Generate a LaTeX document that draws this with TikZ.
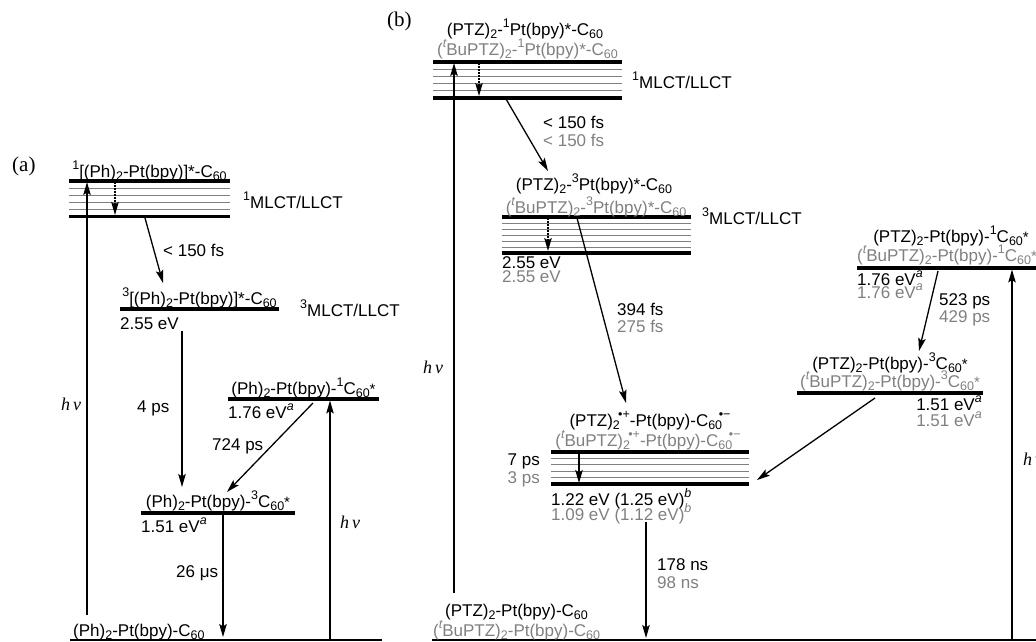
\documentclass[tikz,border=0pt]{standalone}
\usepackage{fontspec}
\setmainfont{Liberation Sans}
\newfontfamily\serif{Liberation Serif}
\usetikzlibrary{arrows.meta}
\newcommand\Sb[1]{\raisebox{-0.2em}{\fontsize{12.5}{13}\selectfont #1}}
\newcommand\Sp[1]{\raisebox{0.42em}{\fontsize{12.5}{13}\selectfont #1}}
\newcommand\st{{\fontsize{15}{15}\selectfont *}}
\definecolor{gtext}{HTML}{808080}
\begin{document}
\begin{tikzpicture}[x=1pt,y=-1pt,
  txt/.style={font=\fontsize{17}{20}\selectfont, inner sep=0pt, text=black},
  gtxt/.style={txt, text=gtext},
  hnu/.style={font=\fontsize{18}{20}\selectfont\serif\itshape, inner sep=0pt},
  panel/.style={font=\fontsize{21}{24}\selectfont\serif, inner sep=0pt},
  lvl/.style={line width=3.8pt},
  sublvl/.style={line width=0.9pt, draw=black!50},
  gline/.style={line width=1.4pt},
  arr/.style={line width=1.3pt, -{Stealth[length=13pt,width=7.5pt,inset=2.5pt]}},
  darr/.style={arr, dash pattern=on 1.6pt off 1.4pt}]
\useasboundingbox (0,0) rectangle (1036,641);
\clip (0,0) rectangle (1036,641);

% ================= (a) =================
\node[panel, anchor=base west] (pa) at (12,171) {(a)};
% singlet manifold
\foreach \y in {188.2,195.4,202.6,209.8} \draw[sublvl] (69,\y) -- (230,\y);
\draw[lvl] (69,181) -- (230,181);
\draw[lvl] (69,216.5) -- (230,216.5);
\node[txt, anchor=base] (a1lab) at (149.5,177) {\Sp{1}[(Ph)\Sb{2}-Pt(bpy)]*-C\Sb{60}};
\node[txt, anchor=base west] (a1ml) at (243,208) {\Sp{1}MLCT/LLCT};
\coordinate (a1top) at (87,182);
\coordinate (a1dtop) at (115,182);
\coordinate (a1dbot) at (115,215);
\coordinate (a1out) at (145,218);
% triplet
\draw[lvl] (120,309) -- (279,309);
\node[txt, anchor=base] (a3lab) at (199.5,304) {\Sp{3}[(Ph)\Sb{2}-Pt(bpy)]*-C\Sb{60}};
\node[txt, anchor=base west] (a3e) at (120,329) {2.55 eV};
\node[txt, anchor=base west] (a3ml) at (300,316) {\Sp{3}MLCT/LLCT};
\coordinate (a3in) at (163,283);
\coordinate (a3out) at (182,331);
\node[txt, anchor=base west] (a150) at (163,256) {< 150 fs};
% 1C60*
\draw[lvl] (228,399) -- (379,399);
\node[txt, anchor=base] (aS1lab) at (303.5,394) {(Ph)\Sb{2}-Pt(bpy)-\Sp{1}C\Sb{60}\st};
\node[txt, anchor=base west] (aS1e) at (228,418) {1.76 eV\Sp{\itshape a}};
\coordinate (aS1out) at (313,403);
\coordinate (aS1in) at (330,400.5);
% 3C60*
\draw[lvl] (141,513) -- (295,513);
\node[txt, anchor=base] (aT1lab) at (218,507) {(Ph)\Sb{2}-Pt(bpy)-\Sp{3}C\Sb{60}\st};
\node[txt, anchor=base west] (aT1e) at (141,532) {1.51 eV\Sp{\itshape a}};
\coordinate (aT1in4) at (182,487);
\coordinate (aT1in7) at (227,492);
\coordinate (aT1out) at (223,514);
% ground
\draw[gline] (70,640) -- (382,640);
\node[txt, anchor=base west] (agl) at (73,636) {(Ph)\Sb{2}-Pt(bpy)-C\Sb{60}};
\coordinate (ag1) at (87,615);
\coordinate (ag2) at (223,637);
\coordinate (ag3) at (330,640);
% rate labels
\node[txt, anchor=base west] (a4ps) at (137,412) {4 ps};
\node[txt, anchor=base west] (a724) at (212,450) {724 ps};
\node[txt, anchor=base west] (a26) at (176,577) {26 μs};
\node[hnu, anchor=base west] (ahv1) at (61,410) {h\,ν};
\node[hnu, anchor=base west] (ahv2) at (340,528) {h\,ν};
% arrows
\draw[arr] (ag1) -- (a1top);
\draw[darr] (a1dtop) -- (a1dbot);
\draw[arr] (a1out) -- (a3in);
\draw[arr] (a3out) -- (aT1in4);
\draw[arr] (aS1out) -- (aT1in7);
\draw[arr] (aT1out) -- (ag2);
\draw[arr] (ag3) -- (aS1in);

% ================= (b) =================
\node[panel, anchor=base west] (pb) at (387,26) {(b)};
% singlet manifold
\foreach \y in {69.2,76.4,83.6,90.8} \draw[sublvl] (433,\y) -- (622,\y);
\draw[lvl] (433,62) -- (622,62);
\draw[lvl] (433,98) -- (622,98);
\node[txt, anchor=base] (b1lab) at (525,35) {(PTZ)\Sb{2}-\Sp{1}Pt(bpy)*-C\Sb{60}};
\node[gtxt, anchor=base] (b1glab) at (527.5,55) {(\Sp{\itshape t}BuPTZ)\Sb{2}-\Sp{1}Pt(bpy)*-C\Sb{60}};
\node[txt, anchor=base west] (b1ml) at (632,88) {\Sp{1}MLCT/LLCT};
\coordinate (b1top) at (454,63);
\coordinate (b1dtop) at (479,63);
\coordinate (b1dbot) at (479,96);
\coordinate (b1out) at (506,99);
\node[txt, anchor=base west] (b150) at (543,128) {< 150 fs};
\node[gtxt, anchor=base west] (b150g) at (543,146) {< 150 fs};
% triplet manifold
\foreach \y in {223,229,235,241,247} \draw[sublvl] (502,\y) -- (691,\y);
\draw[lvl] (502,217) -- (691,217);
\draw[lvl] (502,253) -- (691,253);
\node[txt, anchor=base] (b3lab) at (594,190) {(PTZ)\Sb{2}-\Sp{3}Pt(bpy)*-C\Sb{60}};
\node[gtxt, anchor=base] (b3glab) at (596,213) {(\Sp{\itshape t}BuPTZ)\Sb{2}-\Sp{3}Pt(bpy)*-C\Sb{60}};
\node[txt, anchor=base west] (b3ml) at (702,224) {\Sp{3}MLCT/LLCT};
\node[txt, anchor=base west] (b3e) at (502,268) {2.55 eV};
\node[gtxt, anchor=base west] (b3eg) at (502,282) {2.55 eV};
\coordinate (b3in) at (548,171);
\coordinate (b3dtop) at (548,218);
\coordinate (b3dbot) at (548,251);
\coordinate (b3out) at (577,218);
\node[txt, anchor=base west] (b394) at (617,315) {394 fs};
\node[gtxt, anchor=base west] (b275) at (617,332) {275 fs};
% charge-separated manifold
\foreach \y in {458.4,464.8,471.2,477.6} \draw[sublvl] (551,\y) -- (749,\y);
\draw[lvl] (551,452) -- (749,452);
\draw[lvl] (551,484) -- (749,484);
\node[txt, anchor=base] (bcslab) at (650,426) {(PTZ)\Sb{2}\kern-0.1em\Sp{•+}-Pt(bpy)-C\Sb{60}\kern-0.2em\Sp{•−}};
\node[gtxt, anchor=base] (bcsglab) at (648,446) {(\Sp{\itshape t}BuPTZ)\Sb{2}\kern-0.1em\Sp{•+}-Pt(bpy)-C\Sb{60}\kern-0.2em\Sp{•−}};
\node[txt, anchor=base east] (b7ps) at (540,465) {7 ps};
\node[gtxt, anchor=base east] (b3ps) at (540,483) {3 ps};
\node[txt, anchor=base west] (bcse) at (551,505) {1.22 eV (1.25 eV)\Sp{\itshape b}};
\node[gtxt, anchor=base west] (bcseg) at (551,520) {1.09 eV (1.12 eV)\Sp{\itshape b}};
\coordinate (bcsin1) at (626,403);
\coordinate (bcsstop) at (579,453);
\coordinate (bcssbot) at (579,483);
\coordinate (bcsin2) at (757,480);
\coordinate (bcsout) at (646,522);
\node[txt, anchor=base west] (b178) at (657,570) {178 ns};
\node[gtxt, anchor=base west] (b98) at (657,588) {98 ns};
% 1C60*
\draw[lvl] (857,268) -- (1040,268);
\node[txt, anchor=base] (bS1lab) at (951,242) {(PTZ)\Sb{2}-Pt(bpy)-\Sp{1}C\Sb{60}\st};
\node[gtxt, anchor=base west] (bS1glab) at (857,261) {(\Sp{\itshape t}BuPTZ)\Sb{2}-Pt(bpy)-\Sp{1}C\Sb{60}\st};
\node[txt, anchor=base west] (bS1e) at (857,285) {1.76 eV\Sp{\itshape a}};
\node[gtxt, anchor=base west] (bS1eg) at (857,298) {1.76 eV\Sp{\itshape a}};
\node[txt, anchor=base west] (b523) at (939,305) {523 ps};
\node[gtxt, anchor=base west] (b429) at (939,322) {429 ps};
\coordinate (bS1out) at (938,271);
\coordinate (bS1in) at (1012,269.5);
% 3C60*
\draw[lvl] (797,393) -- (983,393);
\node[txt, anchor=base] (bT1lab) at (890,369) {(PTZ)\Sb{2}-Pt(bpy)-\Sp{3}C\Sb{60}\st};
\node[gtxt, anchor=base] (bT1glab) at (890,387) {(\Sp{\itshape t}BuPTZ)\Sb{2}-Pt(bpy)-\Sp{3}C\Sb{60}\st};
\node[txt, anchor=base east] (bT1e) at (982,410) {1.51 eV\Sp{\itshape a}};
\node[gtxt, anchor=base east] (bT1eg) at (982,426) {1.51 eV\Sp{\itshape a}};
\coordinate (bT1in) at (919,351);
\coordinate (bT1out) at (875,398);
% ground
\draw[gline] (432,640) -- (1040,640);
\node[txt, anchor=base west] (bgl) at (445,616) {(PTZ)\Sb{2}-Pt(bpy)-C\Sb{60}};
\node[gtxt, anchor=base west] (bglg) at (433,636) {(\Sp{\itshape t}BuPTZ)\Sb{2}-Pt(bpy)-C\Sb{60}};
\coordinate (bg1) at (454,593);
\coordinate (bg2) at (646,638);
\coordinate (bg3) at (1012,640);
\node[hnu, anchor=base west] (bhv1) at (423,373) {h\,ν};
\node[hnu, anchor=base west] (bhv2) at (1023,465) {h\,ν};
% arrows
\draw[arr] (bg1) -- (b1top);
\draw[darr] (b1dtop) -- (b1dbot);
\draw[arr] (b1out) -- (b3in);
\draw[darr] (b3dtop) -- (b3dbot);
\draw[arr] (b3out) -- (bcsin1);
\draw[arr] (bcsstop) -- (bcssbot);
\draw[arr] (bcsout) -- (bg2);
\draw[arr] (bS1out) -- (bT1in);
\draw[arr] (bT1out) -- (bcsin2);
\draw[arr] (bg3) -- (bS1in);
\end{tikzpicture}
\end{document}
